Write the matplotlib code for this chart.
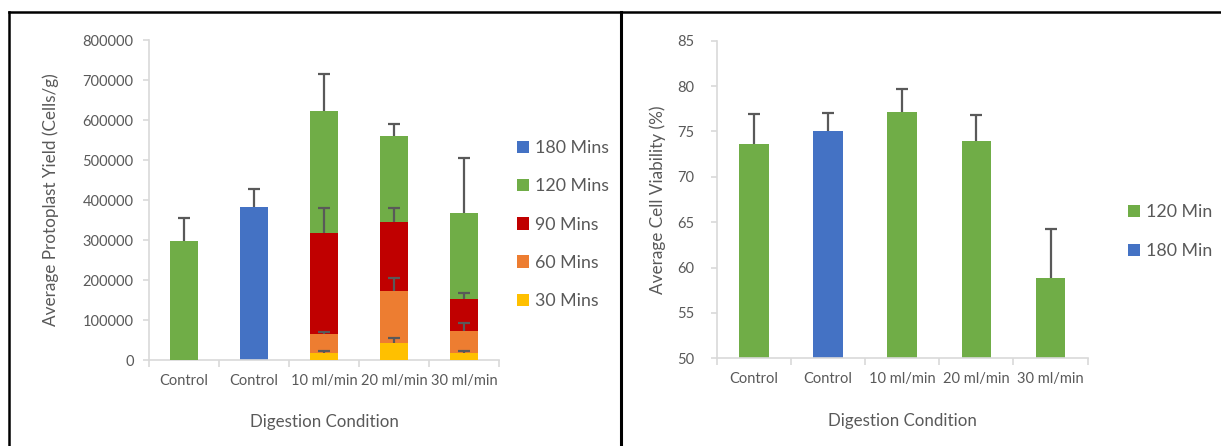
import numpy as np
import matplotlib
matplotlib.use('Agg')
import matplotlib.pyplot as plt
from matplotlib.patches import Patch
from matplotlib.lines import Line2D

plt.rcParams['font.family'] = ['Lato', 'DejaVu Sans']

# === Data ===
conditions = ['Control', 'Control', '10 ml/min', '20 ml/min', '30 ml/min']

# protoplast yield (cells/g), cumulative at each time point
nan = np.nan
yield_180 = [nan, 382500, nan, nan, nan]
yield_180_err = [nan, 428300, nan, nan, nan]
yield_120 = [297500, nan, 623300, 559200, 367500]
yield_120_err = [355800, nan, 714200, 590000, 505800]
yield_90 = [nan, nan, 317500, 344200, 152500]
yield_90_err = [nan, nan, 380800, 380800, 166700]
yield_60 = [nan, nan, 64200, 172500, 71700]
yield_60_err = [nan, nan, 70800, 205000, 91700]
yield_30 = [nan, nan, 18300, 41700, 18300]
yield_30_err = [nan, nan, 23300, 54200, 23300]

# cell viability (%)
viability = [73.6, 75.0, 77.1, 74.0, 58.85]
viability_err = [76.9, 77.05, 79.7, 76.8, 64.2]
viability_group = ['120', '180', '120', '120', '120']

GREEN = '#70AD47'
BLUE = '#4472C4'
RED = '#C00000'
ORANGE = '#ED7D31'
YELLOW = '#FFC000'
GREY_TXT = '#595959'
AXIS_GREY = '#D9D9D9'
FS = 10.5

W, H = 1221, 446
fig = plt.figure(figsize=(W / 100, H / 100), dpi=100)


def style_axis(ax, ypad):
    for s in ['top', 'right']:
        ax.spines[s].set_visible(False)
    for s in ['left', 'bottom']:
        ax.spines[s].set_color(AXIS_GREY)
        ax.spines[s].set_linewidth(1.2)
    ax.tick_params(axis='y', colors=AXIS_GREY, labelcolor=GREY_TXT,
                   labelsize=FS, length=4, width=1.2, pad=ypad)
    ax.tick_params(axis='x', which='major', length=0, labelcolor=GREY_TXT,
                   labelsize=FS, pad=10)
    ax.set_xticks(np.arange(-0.5, 5, 1), minor=True)
    ax.tick_params(axis='x', which='minor', length=5, width=1.2, color=AXIS_GREY)
    ax.set_xticks(range(len(conditions)))
    ax.set_xticklabels(conditions)
    ax.set_xlim(-0.5, 4.5)


def up_err(ax, x, top, err):
    # upper-only error bars, cap on top only
    ax.vlines(x, top, err, colors=GREY_TXT, linewidth=1.6, zorder=10)
    ax.plot(x, err, linestyle='none', marker='_', markersize=8.6,
            markeredgewidth=1.6, color=GREY_TXT, zorder=10)


x = np.arange(len(conditions))
bw = 0.4

# === Left chart: protoplast yield ===
ax1 = fig.add_axes([149 / W, (H - 360) / H, 350 / W, 320 / H])
series = [
    (yield_180, yield_180_err, BLUE, '180 Mins'),
    (yield_120, yield_120_err, GREEN, '120 Mins'),
    (yield_90, yield_90_err, RED, '90 Mins'),
    (yield_60, yield_60_err, ORANGE, '60 Mins'),
    (yield_30, yield_30_err, YELLOW, '30 Mins'),
]
for i, (vals, errs, col, lab) in enumerate(series):
    ax1.bar(x, np.nan_to_num(vals), width=bw, color=col, zorder=2 + i)
    up_err(ax1, x, vals, errs)
ax1.set_ylim(0, 800000)
ax1.set_yticks(np.arange(0, 800001, 100000))
style_axis(ax1, 7)
ax1.set_ylabel('Average Protoplast Yield (Cells/g)', color=GREY_TXT, fontsize=12.3, labelpad=17)
ax1.set_xlabel('Digestion Condition', color=GREY_TXT, fontsize=12.2, labelpad=19)

handles1 = [Patch(facecolor=c, label=l) for _, _, c, l in series]
fig.legend(handles=handles1, loc='center left', bbox_to_anchor=(501 / W, 1 - 224.5 / H),
           frameon=False, fontsize=12.8, handlelength=0.7, handleheight=0.7,
           handletextpad=0.3, labelspacing=1.25, labelcolor=GREY_TXT)

# === Right chart: cell viability ===
ax2 = fig.add_axes([717 / W, (H - 358.3) / H, 370.6 / W, 317.6 / H])
cols = [GREEN if g == '120' else BLUE for g in viability_group]
ax2.bar(x, viability, width=bw, color=cols, zorder=2)
up_err(ax2, x, viability, viability_err)
ax2.set_ylim(50, 85)
ax2.set_yticks(np.arange(50, 86, 5))
style_axis(ax2, 12.5)
ax2.set_ylabel('Average Cell Viability (%)', color=GREY_TXT, fontsize=12.3, labelpad=8)
ax2.set_xlabel('Digestion Condition', color=GREY_TXT, fontsize=12.2, labelpad=19)

handles2 = [Patch(facecolor=GREEN, label='120 Min'), Patch(facecolor=BLUE, label='180 Min')]
fig.legend(handles=handles2, loc='center left', bbox_to_anchor=(1112 / W, 1 - 231.5 / H),
           frameon=False, fontsize=12.8, handlelength=0.7, handleheight=0.7,
           handletextpad=0.3, labelspacing=1.3, labelcolor=GREY_TXT)

# === Frame lines ===
fig.add_artist(Line2D([9 / W, 1], [1 - 11.5 / H] * 2, color='black', lw=1.8, transform=fig.transFigure))
fig.add_artist(Line2D([9 / W] * 2, [0, 1 - 11.5 / H], color='black', lw=1.8, transform=fig.transFigure))
fig.add_artist(Line2D([620.5 / W] * 2, [0, 1 - 11.5 / H], color='black', lw=2.2, transform=fig.transFigure))

fig.savefig('out.png', dpi=100, facecolor='white')
